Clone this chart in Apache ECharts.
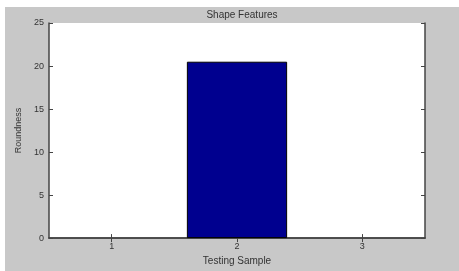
<!DOCTYPE html>
<html>
<head>
<meta charset="utf-8">
<script src="https://cdn.jsdelivr.net/npm/echarts@6/dist/echarts.min.js"></script>
<style>
html,body{margin:0;padding:0;background:#fff;}
#bg{position:absolute;left:5px;top:7px;width:454px;height:264px;background:#c8c8c8;}
#chart{position:absolute;left:0;top:0;width:459px;height:271px;}
</style>
</head>
<body>
<div id="bg"></div>
<div id="chart"></div>
<script>
const categories = ['1', '2', '3'];
const roundness = [null, 20.5, null];
const yTicks = [0, 5, 10, 15, 20, 25];

const chart = echarts.init(document.getElementById('chart'), null, {renderer: 'canvas'});
const txt = '#333';
const axisCol = '#444';
const font = 'Arial, "Liberation Sans", sans-serif';
chart.setOption({
  backgroundColor: 'transparent',
  animation: false,
  title: {
    text: 'Shape Features', left: 237, top: 5, textAlign: 'center',
    textStyle: {fontSize: 10, fontWeight: 'normal', color: txt, fontFamily: font}
  },
  grid: {left: 49, right: 34, top: 23, bottom: 26, show: true, backgroundColor: '#fff', borderWidth: 0},
  xAxis: [{
    type: 'category', data: categories, boundaryGap: true,
    name: 'Testing Sample', nameLocation: 'middle', nameGap: 13,
    nameTextStyle: {fontSize: 10, color: txt, fontFamily: font},
    axisLine: {show: true, lineStyle: {color: axisCol, width: 1.5}},
    axisTick: {show: true, inside: true, alignWithLabel: true, length: 4, lineStyle: {color: axisCol}},
    axisLabel: {fontSize: 9, color: txt, margin: 4, fontFamily: font},
    splitLine: {show: false}
  }, {
    type: 'category', data: categories, position: 'top', boundaryGap: true,
    axisLine: {show: true, lineStyle: {color: axisCol, width: 1.5}},
    axisTick: {show: true, inside: true, alignWithLabel: true, length: 4, lineStyle: {color: axisCol}},
    axisLabel: {show: false}
  }],
  yAxis: [{
    type: 'value', min: yTicks[0], max: yTicks[yTicks.length - 1], interval: 5,
    name: 'Roundness', nameLocation: 'middle', nameGap: 24, nameRotate: 90,
    nameTextStyle: {fontSize: 9, color: txt, fontFamily: font},
    axisLine: {show: true, lineStyle: {color: axisCol, width: 1.5}},
    axisTick: {show: true, inside: true, length: 4, lineStyle: {color: axisCol}},
    axisLabel: {fontSize: 9, color: txt, margin: 5, fontFamily: font},
    splitLine: {show: false}
  }, {
    type: 'value', position: 'right', min: yTicks[0], max: yTicks[yTicks.length - 1], interval: 5,
    axisLine: {show: true, lineStyle: {color: axisCol, width: 1.5}},
    axisTick: {show: true, inside: true, length: 4, lineStyle: {color: axisCol}},
    axisLabel: {show: false},
    splitLine: {show: false}
  }],
  series: [{
    type: 'bar', data: roundness, barWidth: '80%',
    itemStyle: {color: '#00008f', borderColor: '#000', borderWidth: 1}
  }]
});
</script>
</body>
</html>
